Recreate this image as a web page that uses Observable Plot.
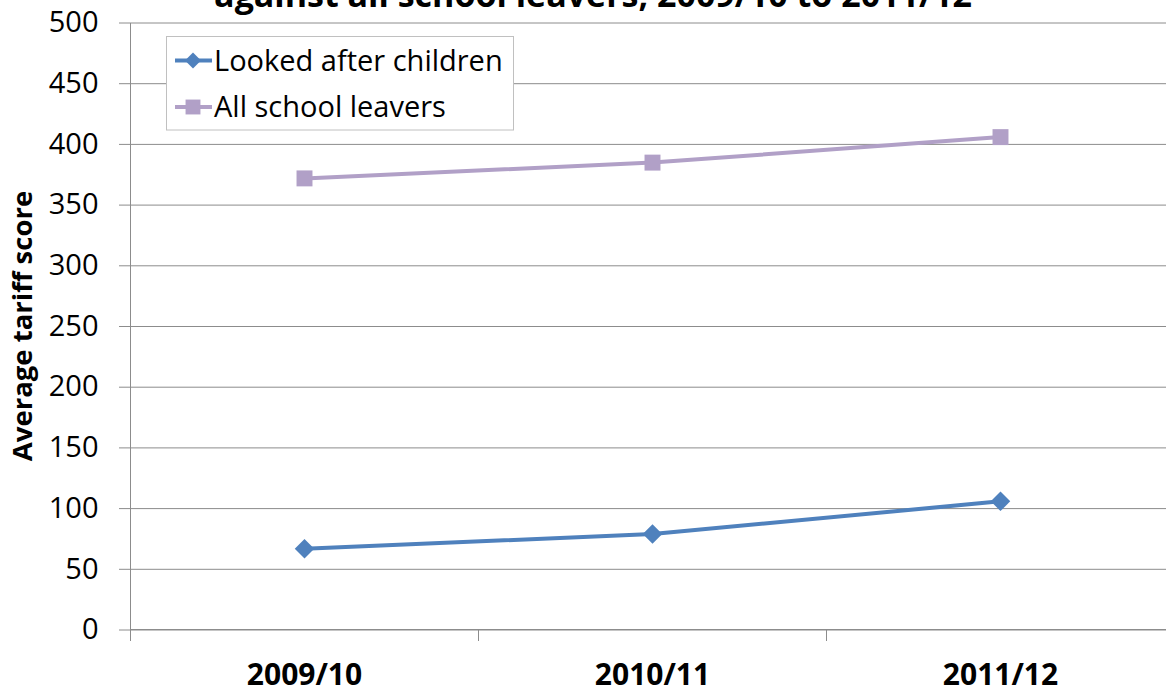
<!DOCTYPE html>
<html>
<head>
<meta charset="utf-8">
<script src="https://cdn.jsdelivr.net/npm/d3@7"></script>
<script src="https://cdn.jsdelivr.net/npm/@observablehq/plot@0.6"></script>
<style>
  html, body { margin: 0; padding: 0; background: #fff; }
  #chart svg { display: block; }
</style>
</head>
<body>
<div id="chart"></div>
<script>
// School years on the category axis
const years = ["2009/10", "2010/11", "2011/12"];
// Average tariff score per year
const lookedAfter = [67, 79, 106];
const allLeavers = [372, 385, 406];
// Series names, in legend order
const seriesNames = ["Looked after children", "All school leavers"];
// Value axis ticks
const yTicks = [0, 50, 100, 150, 200, 250, 300, 350, 400, 450, 500];

const titleText = "against all school leavers, 2009/10 to 2011/12";
const yTitle = "Average tariff score";

const blue = "#4F81BD";
const lilac = "#B1A0C7";
const gridGray = "#8C8C8C";
const font = "'Open Sans', sans-serif";

const rowsLAC = years.map((year, i) => ({year, value: lookedAfter[i], series: seriesNames[0]}));
const rowsAll = years.map((year, i) => ({year, value: allLeavers[i], series: seriesNames[1]}));

const W = 1166, H = 688;

const chart = Plot.plot({
  width: W,
  height: H,
  marginLeft: 130,
  marginRight: 0,
  marginTop: 22,
  marginBottom: 59,
  style: {fontFamily: font, color: "#000", background: "#fff", overflow: "hidden"},
  x: {type: "point", domain: years, range: [130, 1174], padding: 0.5},
  y: {domain: [0, 500], range: [629.5, 22.5]},
  marks: [
    Plot.gridY(yTicks, {stroke: gridGray, strokeOpacity: 1, strokeWidth: 1}),
    Plot.axisY(yTicks, {
      tickSize: 11, tickPadding: 21, fontSize: 29, stroke: gridGray,
      label: null, tickFormat: d => String(d)
    }),
    Plot.axisX({
      tickSize: 0, tickPadding: 34, fontSize: 30, fontWeight: "bold", label: null
    }),
    Plot.line(rowsAll, {x: "year", y: "value", stroke: lilac, strokeWidth: 4}),
    Plot.dot(rowsAll, {x: "year", y: "value", symbol: "square", r: 9, fill: lilac, stroke: "none"}),
    Plot.line(rowsLAC, {x: "year", y: "value", stroke: blue, strokeWidth: 4}),
    Plot.dot(rowsLAC, {x: "year", y: "value", symbol: "diamond2", r: 8.8, fill: blue, stroke: "none"})
  ]
});

document.getElementById("chart").appendChild(chart);

// Axis lines and category separator ticks, placed from the chart's own scales
const svg = d3.select(chart);
const xs = chart.scale("x");
const ys = chart.scale("y");
const step = xs.apply(years[1]) - xs.apply(years[0]);
const left = xs.apply(years[0]) - step / 2;
const y0 = ys.apply(0);
const yTop = ys.apply(500);

const deco = svg.append("g").attr("stroke", gridGray).attr("stroke-width", 1).attr("shape-rendering", "crispEdges");
deco.append("line").attr("x1", left).attr("x2", left).attr("y1", yTop).attr("y2", y0 + 11);
deco.append("line").attr("x1", left).attr("x2", W).attr("y1", y0).attr("y2", y0);
for (let i = 1; i <= years.length; i++) {
  const bx = left + i * step;
  deco.append("line").attr("x1", bx).attr("x2", bx).attr("y1", y0).attr("y2", y0 + 11);
}

// Title (second line of the chart heading)
svg.append("text")
  .attr("x", 593).attr("y", 7)
  .attr("text-anchor", "middle")
  .attr("font-family", font).attr("font-size", 34).attr("font-weight", "bold")
  .attr("fill", "#000")
  .text(titleText);

// Value axis title
svg.append("text")
  .attr("transform", `translate(32, ${(y0 + yTop) / 2}) rotate(-90)`)
  .attr("text-anchor", "middle")
  .attr("font-family", font).attr("font-size", 27.5).attr("font-weight", "bold")
  .attr("fill", "#000")
  .text(yTitle);

// Legend box
const lg = svg.append("g").attr("font-family", font).attr("font-size", 29).attr("text-anchor", "start");
lg.append("rect")
  .attr("x", 166.5).attr("y", 36.5).attr("width", 347).attr("height", 93.5)
  .attr("fill", "#fff").attr("stroke", "#C0C0C0").attr("stroke-width", 1);
const entries = [
  {name: seriesNames[0], color: blue, symbol: d3.symbolDiamond2, size: Math.PI * 7.2 * 7.2, cy: 60.5},
  {name: seriesNames[1], color: lilac, symbol: d3.symbolSquare, size: Math.PI * 8.4 * 8.4, cy: 107}
];
for (const e of entries) {
  lg.append("line").attr("x1", 175).attr("x2", 212).attr("y1", e.cy).attr("y2", e.cy)
    .attr("stroke", e.color).attr("stroke-width", 4);
  lg.append("path").attr("d", d3.symbol(e.symbol, e.size)())
    .attr("transform", `translate(193, ${e.cy})`).attr("fill", e.color);
  lg.append("text").attr("x", 214).attr("y", e.cy).attr("dy", "0.35em")
    .attr("text-anchor", "start")
    .attr("fill", "#000").text(e.name);
}
</script>
</body>
</html>
